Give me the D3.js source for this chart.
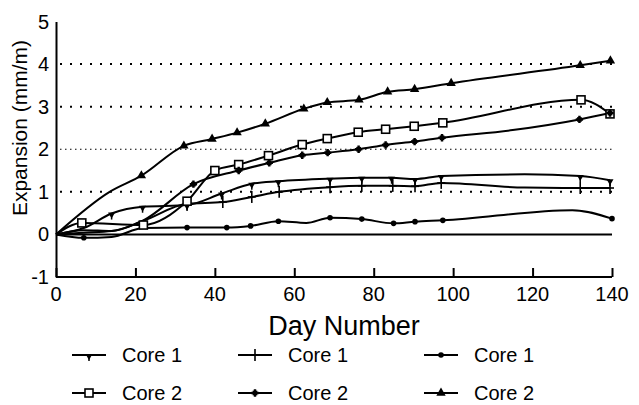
<!DOCTYPE html>
<html>
<head>
<meta charset="utf-8">
<script src="https://cdn.jsdelivr.net/npm/d3@7"></script>
<style>
  body { margin: 0; background: #fff; }
  svg text { font-family: "Liberation Sans", Arial, sans-serif; fill: #000; }
  svg text.narrow { font-family: "Liberation Sans Narrow", "Arial Narrow", "Liberation Sans", sans-serif; }
</style>
</head>
<body>
<svg id="chart" width="639" height="405"></svg>
<script>
// Core 1 series
const invTriDays = [0, 7, 14, 21.8, 33, 41.7, 49.3, 56, 69, 77, 84.5, 90.4, 97, 118, 132, 139.5];
const invTriVals = [0, 0.15, 0.49, 0.65, 0.69, 0.96, 1.19, 1.25, 1.31, 1.33, 1.33, 1.3, 1.37, 1.41, 1.37, 1.27];
const invTriHidden = [1, 13];

const plusDays = [0, 7, 14, 22, 33, 42, 49.3, 56.2, 69, 77, 84.8, 90.4, 97, 118, 132, 139.5];
const plusVals = [0, 0.1, 0.08, 0.32, 0.72, 0.76, 0.88, 1.0, 1.11, 1.14, 1.14, 1.13, 1.21, 1.1, 1.09, 1.09];
const plusHidden = [1, 2, 3, 13];

const circleDays = [0, 7, 14, 22, 33, 43, 49, 56, 63, 69, 77, 85, 90.4, 97.4, 130, 140];
const circleVals = [0, -0.08, -0.06, 0.15, 0.16, 0.16, 0.2, 0.31, 0.27, 0.39, 0.36, 0.26, 0.3, 0.33, 0.57, 0.37];
const circleHidden = [2, 3, 8, 14];

// Core 2 series
const squareDays = [0, 6.5, 22, 33, 40, 46, 53.5, 62, 68.3, 76.1, 83, 90.2, 97.4, 132.2, 139.5];
const squareVals = [0, 0.27, 0.22, 0.78, 1.5, 1.64, 1.85, 2.11, 2.25, 2.4, 2.47, 2.54, 2.62, 3.16, 2.83];
const squareHidden = [];

const starDays = [0, 7, 14, 22, 34.6, 46, 53.7, 62, 68.4, 76.2, 83, 90.3, 97.2, 115, 131.8, 139.5];
const starVals = [0, 0.04, 0.08, 0.33, 1.18, 1.5, 1.68, 1.86, 1.92, 2.0, 2.1, 2.18, 2.27, 2.45, 2.7, 2.85];
const starHidden = [1, 2, 3, 13];

const triDays = [0, 13.5, 21.5, 32.2, 39.3, 45.6, 52.7, 62.4, 68.3, 76.3, 83.5, 90.3, 99.5, 132, 139.6];
const triVals = [0, 1.0, 1.38, 2.08, 2.24, 2.39, 2.6, 2.95, 3.1, 3.16, 3.35, 3.41, 3.55, 3.97, 4.08];
const triHidden = [1];

const xTicks = [0, 20, 40, 60, 80, 100, 120, 140];
const yTicks = [-1, 0, 1, 2, 3, 4, 5];
const gridVals = [1, 2, 3, 4];
const legendLabels = ["Core 1", "Core 1", "Core 1", "Core 2", "Core 2", "Core 2"];

const series = [
  { days: invTriDays, vals: invTriVals, hidden: invTriHidden, mark: "invTri" },
  { days: plusDays, vals: plusVals, hidden: plusHidden, mark: "plus" },
  { days: circleDays, vals: circleVals, hidden: circleHidden, mark: "circle" },
  { days: squareDays, vals: squareVals, hidden: squareHidden, mark: "square" },
  { days: starDays, vals: starVals, hidden: starHidden, mark: "star" },
  { days: triDays, vals: triVals, hidden: triHidden, mark: "tri" }
];

const svg = d3.select("#chart");
const x = d3.scaleLinear().domain([0, 140]).range([56, 612]);
const y = d3.scaleLinear().domain([-1, 5]).range([277, 21.5]);

// dotted grid lines
svg.selectAll("line.grid")
  .data(gridVals)
  .enter().append("line")
    .attr("class", "grid")
    .attr("x1", x(0) + 4).attr("x2", x(140))
    .attr("y1", d => y(d)).attr("y2", d => y(d))
    .attr("stroke", "#000")
    .attr("stroke-width", d => d === 2 ? 1.2 : 2)
    .attr("stroke-dasharray", d => d === 2 ? "1.5,3.5" : "2,8");

// zero line
svg.append("line")
  .attr("x1", x(0)).attr("x2", x(140))
  .attr("y1", y(0)).attr("y2", y(0))
  .attr("stroke", "#000").attr("stroke-width", 2);

// axes
const xAxis = svg.append("g")
  .attr("transform", "translate(0," + y(-1) + ")")
  .call(d3.axisTop(x).tickValues(xTicks).tickSize(9).tickFormat(""));
xAxis.select(".domain").attr("stroke-width", 2).attr("d", "M" + x(0) + ",0H" + x(140));
xAxis.selectAll(".tick line").attr("stroke-width", 2);

svg.selectAll("text.xlab")
  .data(xTicks)
  .enter().append("text")
    .attr("class", "xlab")
    .attr("x", d => x(d)).attr("y", y(-1) + 24)
    .attr("text-anchor", "middle")
    .attr("font-size", 20)
    .text(d => d);

const yAxis = svg.append("g")
  .attr("transform", "translate(" + x(0) + ",0)")
  .call(d3.axisLeft(y).tickValues(yTicks).tickSize(0).tickFormat(""));
yAxis.select(".domain").attr("stroke-width", 2);

svg.selectAll("text.ylab")
  .data(yTicks)
  .enter().append("text")
    .attr("class", "ylab")
    .attr("x", 49).attr("y", d => y(d) + 7)
    .attr("text-anchor", "end")
    .attr("font-size", 20)
    .text(d => d);

svg.append("text")
  .attr("class", "narrow")
  .attr("transform", "translate(27,128) rotate(-90)")
  .attr("text-anchor", "middle")
  .attr("font-size", 21)
  .text("Expansion (mm/m)");

svg.append("text")
  .attr("x", 344).attr("y", 335)
  .attr("text-anchor", "middle")
  .attr("font-size", 27)
  .text("Day Number");

// marker drawing
function drawMark(g, type) {
  if (type === "invTri") {
    g.append("path").attr("d", "M-3.5,-1L3.5,-1L0,5Z").attr("fill", "#000");
    g.append("line").attr("x1", 0).attr("x2", 0).attr("y1", 0).attr("y2", 6)
      .attr("stroke", "#000").attr("stroke-width", 1.5);
  } else if (type === "plus") {
    g.append("line").attr("x1", 0).attr("x2", 0).attr("y1", -6).attr("y2", 6)
      .attr("stroke", "#000").attr("stroke-width", 1.6);
    g.append("line").attr("x1", -4).attr("x2", 4).attr("y1", 0).attr("y2", 0)
      .attr("stroke", "#000").attr("stroke-width", 1.6);
  } else if (type === "circle") {
    g.append("circle").attr("r", 2.8).attr("fill", "#000");
  } else if (type === "square") {
    g.append("rect").attr("x", -4).attr("y", -4).attr("width", 8).attr("height", 8)
      .attr("fill", "#fff").attr("stroke", "#000").attr("stroke-width", 1.6);
  } else if (type === "star") {
    g.append("path").attr("d", d3.symbol(d3.symbolSquare, 22)()).attr("fill", "#000");
    g.append("path").attr("d", d3.symbol(d3.symbolCross, 30)()).attr("fill", "#000");
  } else if (type === "tri") {
    g.append("path").attr("d", d3.symbol(d3.symbolTriangle, 38)()).attr("fill", "#000");
  }
}

const line = d3.line()
  .x(d => x(d[0]))
  .y(d => y(d[1]))
  .curve(d3.curveMonotoneX);

series.forEach(s => {
  const pts = s.days.map((d, i) => [d, s.vals[i]]);
  svg.append("path")
    .datum(pts)
    .attr("d", line)
    .attr("fill", "none")
    .attr("stroke", "#000")
    .attr("stroke-width", 2);
});

series.forEach(s => {
  s.days.forEach((d, i) => {
    if (i === 0 || s.hidden.indexOf(i) >= 0) return;
    const g = svg.append("g").attr("transform", "translate(" + x(d) + "," + y(s.vals[i]) + ")");
    drawMark(g, s.mark);
  });
});

// legend
const legX = [72, 238, 424];
const legY = [355, 393];
series.forEach((s, i) => {
  const lx = legX[i % 3], ly = legY[Math.floor(i / 3)];
  svg.append("line")
    .attr("x1", lx).attr("x2", lx + 34)
    .attr("y1", ly).attr("y2", ly)
    .attr("stroke", "#000").attr("stroke-width", 2);
  const g = svg.append("g").attr("transform", "translate(" + (lx + 17) + "," + ly + ")");
  drawMark(g, s.mark);
  svg.append("text")
    .attr("x", lx + 50).attr("y", ly + 7)
    .attr("font-size", 20)
    .text(legendLabels[i]);
});
</script>
</body>
</html>
